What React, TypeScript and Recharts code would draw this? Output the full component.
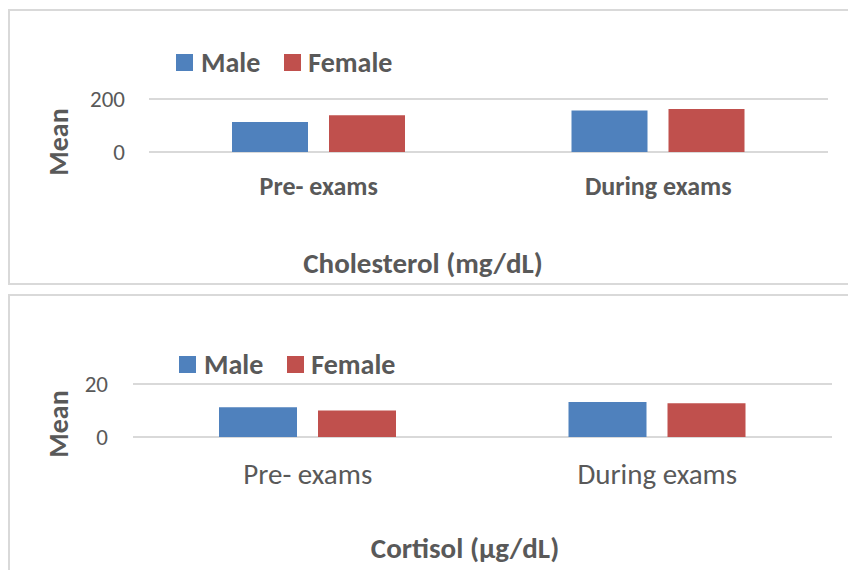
import React from 'react';
import { BarChart, Bar, XAxis, YAxis, CartesianGrid, Legend, Label } from 'recharts';

const periods = ['Pre- exams', 'During exams'];
const cholesterolMale = [113, 157];
const cholesterolFemale = [139, 162];
const cortisolMale = [11.2, 13.2];
const cortisolFemale = [10.0, 12.7];
const cholesterolTicks = [0, 200];
const cortisolTicks = [0, 20];

const cholesterolData = periods.map((period, i) => ({
  period,
  Male: cholesterolMale[i],
  Female: cholesterolFemale[i],
}));

const cortisolData = periods.map((period, i) => ({
  period,
  Male: cortisolMale[i],
  Female: cortisolFemale[i],
}));

const FONT = 'Carlito, Calibri, Lato, sans-serif';
const TEXT = '#595959';
const BLUE = '#4f81bd';
const RED = '#c0504d';
const GRID = '#d9d9d9';

const LegendBox = () => (
  <div style={{ display: 'flex', alignItems: 'center', height: 30, fontFamily: FONT, fontWeight: 700, fontSize: 28, color: TEXT }}>
    <span style={{ width: 17, height: 17, background: BLUE, display: 'inline-block', marginRight: 8 }} />
    <span style={{ marginRight: 24 }}>Male</span>
    <span style={{ width: 17, height: 17, background: RED, display: 'inline-block', marginRight: 7 }} />
    <span>Female</span>
  </div>
);

interface PanelProps {
  data: any[];
  ticks: number[];
  title: string;
  titleX: number;
  titleY: number;
  meanY: number;
  yWidth: number;
  right: number;
  barSize: number;
  legendLeft: number;
  legendTop: number;
  catBold: boolean;
  catFont: number;
  catMargin: number;
  tickMargin: number;
  xHeight: number;
}

const Panel = (p: PanelProps) => (
  <BarChart
    width={848}
    height={290}
    data={p.data}
    margin={{ top: 69, right: p.right, bottom: 0, left: 0 }}
    barSize={p.barSize}
    barGap={21}
  >
    <CartesianGrid vertical={false} stroke={GRID} strokeWidth={2} />
    <Legend
      verticalAlign='top'
      content={() => <LegendBox />}
      wrapperStyle={{ top: p.legendTop, left: p.legendLeft, width: 'auto', height: 30 }}
    />
    <XAxis
      dataKey='period'
      axisLine={false}
      tickLine={false}
      tickSize={0}
      tickMargin={p.catMargin}
      height={p.xHeight}
      tick={{ fill: TEXT, fontFamily: FONT, fontSize: p.catFont, fontWeight: p.catBold ? 700 : 400 }}
    >
      <Label
        content={() => (
          <text x={p.titleX} y={p.titleY} textAnchor='middle' fill={TEXT} fontFamily={FONT} fontWeight={700} fontSize={29}>
            {p.title}
          </text>
        )}
      />
    </XAxis>
    <YAxis
      domain={[p.ticks[0], p.ticks[p.ticks.length - 1]]}
      ticks={p.ticks}
      axisLine={false}
      tickLine={false}
      tickSize={0}
      tickMargin={p.tickMargin}
      width={p.yWidth}
      tick={{ fill: TEXT, fontFamily: FONT, fontSize: 23 }}
    >
      <Label
        content={() => (
          <text
            x={68}
            y={p.meanY}
            transform={`rotate(-90 68 ${p.meanY})`}
            textAnchor='middle'
            fill={TEXT}
            fontFamily={FONT}
            fontWeight={700}
            fontSize={28}
          >
            Mean
          </text>
        )}
      />
    </YAxis>
    <Bar dataKey='Male' fill={BLUE} isAnimationActive={false} />
    <Bar dataKey='Female' fill={RED} isAnimationActive={false} />
  </BarChart>
);

export default function App() {
  return (
    <div style={{ position: 'absolute', left: 0, top: 0, width: 848, height: 570, overflow: 'hidden', background: '#fff' }}>
      <div style={{ position: 'absolute', left: 8, top: 9, width: 900, height: 272, border: `2px solid ${GRID}` }} />
      <div style={{ position: 'absolute', left: 8, top: 294, width: 960, height: 300, border: `2px solid ${GRID}` }} />
      <div style={{ position: 'absolute', left: 0, top: 0 }}>
        <Panel
          data={cholesterolData}
          ticks={cholesterolTicks}
          title='Cholesterol (mg/dL)'
          titleX={423}
          titleY={273}
          meanY={142}
          yWidth={149}
          right={20}
          barSize={76}
          legendLeft={176}
          legendTop={47}
          catBold={true}
          catFont={26}
          catMargin={25}
          tickMargin={24}
          xHeight={138}
        />
      </div>
      <div style={{ position: 'absolute', left: 0, top: 285 }}>
        <Panel
          data={cortisolData}
          ticks={cortisolTicks}
          title='Cortisol (µg/dL)'
          titleX={465}
          titleY={273}
          meanY={139}
          yWidth={133}
          right={16}
          barSize={78}
          legendLeft={179}
          legendTop={64}
          catBold={false}
          catFont={29}
          catMargin={26}
          tickMargin={25}
          xHeight={138}
        />
      </div>
    </div>
  );
}
